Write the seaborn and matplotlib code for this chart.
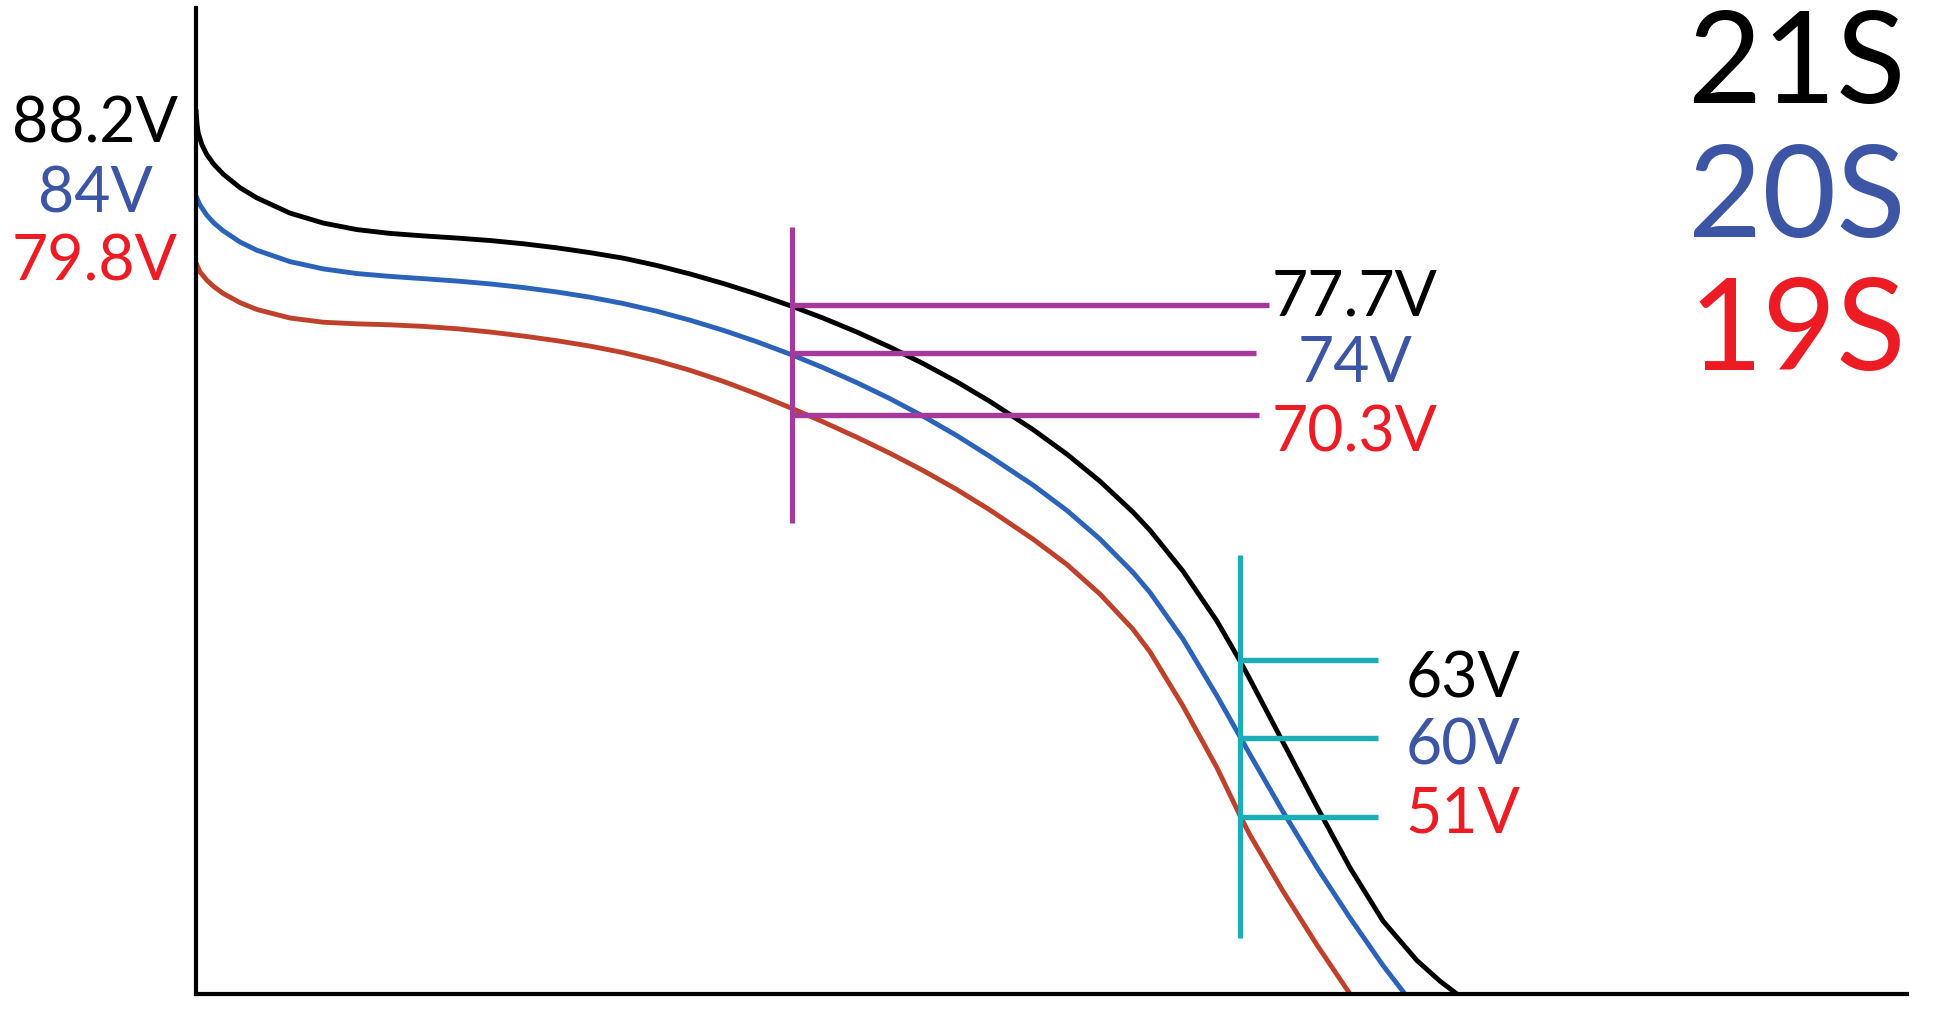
import matplotlib
matplotlib.use("Agg")
import matplotlib.pyplot as plt
import seaborn as sns
import pandas as pd

# ---------------- data (x: discharge %, y: relative voltage level) ----------------
x_21s = [0.00, 0.06, 0.13, 0.35, 0.63, 1.05, 1.60, 2.57, 3.55, 5.49,
         7.44, 9.39, 11.34, 13.28, 15.24, 17.18, 19.13, 21.08, 23.03, 24.97,
         26.93, 28.87, 30.82, 32.77, 34.85, 36.66, 38.62, 40.56, 42.51, 44.46,
         46.41, 48.92, 50.91, 52.83, 54.76, 55.76, 57.69, 59.67, 61.02, 61.60,
         63.53, 65.52, 67.45, 69.38, 71.36, 72.71, 73.70]
y_21s = [89.65, 88.24, 87.33, 86.12, 85.14, 84.13, 83.14, 81.78, 80.75, 79.20,
         78.19, 77.53, 77.14, 76.89, 76.67, 76.42, 76.09, 75.68, 75.19, 74.63,
         73.89, 73.03, 72.06, 70.99, 69.74, 68.55, 67.14, 65.61, 63.93, 62.10,
         60.09, 57.25, 54.74, 52.01, 48.88, 47.03, 42.88, 37.83, 33.78, 31.92,
         25.55, 18.98, 12.80, 7.40, 3.40, 1.30, 0.00]

x_20s = [0.00, 0.23, 0.63, 1.05, 1.60, 2.57, 3.55, 5.49, 7.44, 9.39,
         11.34, 13.28, 15.24, 17.18, 19.13, 21.08, 23.03, 24.97, 26.93, 28.87,
         30.82, 32.77, 34.85, 36.66, 38.62, 40.56, 42.51, 44.46, 46.41, 48.92,
         50.91, 52.83, 54.76, 55.76, 57.69, 59.67, 61.02, 61.60, 63.53, 65.52,
         67.45, 69.38, 70.66]
y_20s = [80.93, 80.03, 78.99, 78.19, 77.39, 76.27, 75.44, 74.28, 73.54, 73.07,
         72.78, 72.55, 72.31, 72.02, 71.65, 71.20, 70.67, 70.03, 69.25, 68.34,
         67.31, 66.16, 64.81, 63.52, 62.01, 60.38, 58.59, 56.64, 54.51, 51.62,
         49.03, 46.15, 42.77, 40.72, 35.99, 30.25, 26.10, 24.30, 18.50, 12.83,
         7.72, 2.89, 0.00]

x_19s = [0.00, 0.23, 0.63, 1.05, 1.60, 2.57, 3.55, 5.49, 7.44, 9.39,
         11.34, 13.28, 15.24, 17.18, 19.13, 21.08, 23.03, 24.97, 26.93, 28.87,
         30.82, 32.77, 34.85, 36.66, 38.62, 40.56, 42.51, 44.46, 46.41, 48.92,
         50.91, 52.83, 54.76, 55.76, 57.69, 59.67, 61.02, 61.60, 63.53, 65.52,
         67.45]
y_19s = [74.14, 73.24, 72.40, 71.73, 71.04, 70.12, 69.43, 68.56, 68.13, 67.97,
         67.87, 67.71, 67.47, 67.14, 66.73, 66.26, 65.71, 65.05, 64.23, 63.26,
         62.13, 60.86, 59.38, 58.02, 56.47, 54.84, 53.08, 51.17, 49.08, 46.14,
         43.55, 40.57, 37.00, 34.70, 29.20, 22.96, 18.10, 16.13, 10.44, 4.97,
         0.00]

series_names = ["21S", "20S", "19S"]
full_labels = ["88.2V", "84V", "79.8V"]
mid_labels = ["77.7V", "74V", "70.3V"]
low_labels = ["63V", "60V", "51V"]

# marker (purple) at mid discharge
mid_x = 34.85
mid_levels = [69.88, 64.98, 58.72]
mid_ends = [62.71, 61.95, 62.13]
mid_span = [47.77, 77.79]

# marker (cyan) at low voltage
low_x = 61.02
low_levels = [33.87, 25.96, 17.95]
low_ends = [69.10, 69.10, 69.10]
low_span = [5.68, 44.52]

# ---------------- styling ----------------
curve_colors = {"21S": "#000000", "20S": "#2A63B9", "19S": "#C0412B"}
text_colors = ["#000000", "#3C55A5", "#ED1C24"]
purple = "#A63A9C"
cyan = "#1BAEB8"

sns.set_style("white")
plt.rcParams["font.family"] = ["Lato", "DejaVu Sans"]

df = pd.concat([
    pd.DataFrame({"x": x_21s, "y": y_21s, "series": "21S"}),
    pd.DataFrame({"x": x_20s, "y": y_20s, "series": "20S"}),
    pd.DataFrame({"x": x_19s, "y": y_19s, "series": "19S"}),
], ignore_index=True)

fig = plt.figure(figsize=(19.54, 10.28), dpi=100)
ax = fig.add_axes([0.1003, 0.0331, 0.8756, 0.9591])

sns.lineplot(data=df, x="x", y="y", hue="series", palette=curve_colors,
             sort=False, estimator=None, legend=False, linewidth=3.5, ax=ax)
for ln in ax.get_lines():
    ln.set_solid_joinstyle("round")
    ln.set_solid_capstyle("round")

# markers
ax.vlines(mid_x, mid_span[0], mid_span[1], color=purple, linewidth=3.7, zorder=5)
ax.hlines(mid_levels, mid_x, mid_ends, color=purple, linewidth=3.9, zorder=5)
ax.vlines(low_x, low_span[0], low_span[1], color=cyan, linewidth=3.7, zorder=5)
ax.hlines(low_levels, low_x, low_ends, color=cyan, linewidth=3.9, zorder=5)

# texts
left_pos = [(-5.90, 86.31), (-5.90, 79.31), (-5.90, 72.41)]
mid_pos = [(67.74, 68.86), (67.74, 62.07), (67.74, 54.97)]
low_pos = [(74.05, 30.12), (74.05, 23.23), (74.05, 16.33)]
right_pos = [(93.57, 90.36), (93.57, 76.77), (93.57, 63.29)]

for i in range(3):
    ax.text(*left_pos[i], full_labels[i], color=text_colors[i], fontsize=45,
            ha="center", va="baseline", clip_on=False)
    ax.text(*mid_pos[i], mid_labels[i], color=text_colors[i], fontsize=45,
            ha="center", va="baseline", clip_on=False)
    ax.text(*low_pos[i], low_labels[i], color=text_colors[i], fontsize=45,
            ha="center", va="baseline", clip_on=False)
    ax.text(*right_pos[i], series_names[i], color=text_colors[i], fontsize=92,
            ha="center", va="baseline", clip_on=False)

ax.set_xlim(0, 100)
ax.set_ylim(0, 100)
ax.set_xticks([])
ax.set_yticks([])
ax.set_xlabel("")
ax.set_ylabel("")
for s in ["top", "right"]:
    ax.spines[s].set_visible(False)
for s in ["left", "bottom"]:
    ax.spines[s].set_linewidth(3.0)
    ax.spines[s].set_color("#000000")

fig.savefig("out.png", dpi=100, facecolor="white")
